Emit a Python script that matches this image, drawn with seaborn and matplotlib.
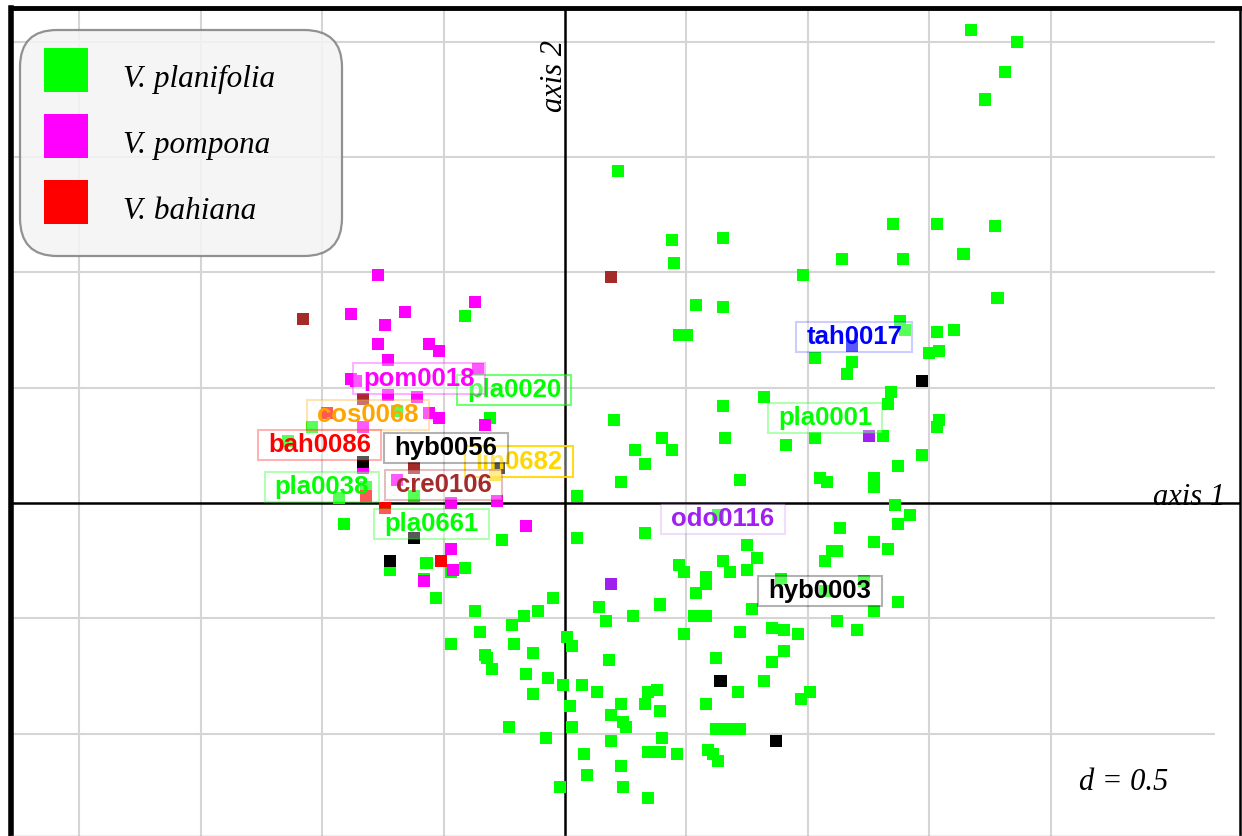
import numpy as np
import pandas as pd
import matplotlib
matplotlib.use("Agg")
import matplotlib.pyplot as plt
import seaborn as sns
from matplotlib.lines import Line2D
from matplotlib.path import Path

# sample scores on the first two axes, one pair of lists per taxon
pla_x = [1.67, 1.86, 1.81, 1.73, 0.22, 1.35, 1.53, 1.77, 0.44, 0.65, 1.14, 1.39, 1.64, 0.45, 0.98,
         1.78, 0.54, 0.65, -0.41, 1.38, 1.40, 1.53, 1.60, 0.47, 0.50, 1.50, 1.54, 1.03, 1.18, 1.16,
         1.34, 0.82, 1.33, 0.65, 1.54, 1.53, 0.20, -0.31, 0.40, 0.66, 0.91, 1.03, 1.31, 0.29, 0.44,
         1.47, 0.33, 1.37, 0.72, 1.05, 1.08, 1.27, 1.27, 0.23, 0.05, -0.69, -1.04, -1.14, -0.82, -0.93,
         -0.62, -0.91, -0.26, 0.05, 0.33, -0.57, -0.72, -0.47, -0.41, -0.58, -0.53, -0.05, 1.36, 1.42, 1.37,
         1.13, 0.63, 0.75, 1.27, 1.33, 1.10, 1.12, 1.07, 0.65, 0.79, 0.47, 0.49, 0.68, 0.75, 0.58,
         0.58, 0.89, 1.23, 0.54, 1.37, 0.77, 1.27, 0.39, 1.12, 1.20, 0.85, 0.90, 0.72, 0.96, 0.90,
         0.62, 0.85, 0.82, 0.71, 1.01, 0.97, 0.58, 0.62, 0.67, 0.72, 0.59, 0.61, 0.63, 0.14, -0.37,
         -0.17, -0.11, 0.17, 0.28, 0.53, 0.58, -0.35, -0.22, 0.01, 0.49, -0.47, -0.21, 0.03, -0.33, -0.32,
         -0.13, 0.18, -0.30, -0.16, -0.07, -0.01, 0.07, 0.13, 0.34, 0.38, -0.13, 0.02, 0.23, 0.33, 0.39,
         0.19, 0.24, 0.25, -0.23, 0.03, -0.08, 0.19, 0.40, 0.08, 0.34, 0.39, 0.46, 0.23, 0.09, -0.02,
         0.24, 0.34, 1.07]
pla_y = [2.05, 2.00, 1.87, 1.75, 1.44, 1.21, 1.21, 1.20, 1.14, 1.15, 1.06, 1.06, 1.08, 1.04, 0.99,
         0.89, 0.86, 0.85, 0.81, 0.79, 0.75, 0.74, 0.75, 0.73, 0.73, 0.65, 0.66, 0.63, 0.61, 0.56,
         0.48, 0.46, 0.43, 0.42, 0.36, 0.33, 0.36, 0.37, 0.28, 0.28, 0.25, 0.28, 0.29, 0.23, 0.23,
         0.21, 0.17, 0.16, 0.10, 0.11, 0.09, 0.11, 0.07, 0.09, 0.03, 0.40, 0.33, 0.27, 0.07, 0.02,
         0.03, -0.09, -0.16, -0.15, -0.13, -0.26, -0.29, -0.30, -0.28, -0.33, -0.41, -0.41, -0.01, -0.05, -0.09,
         -0.11, -0.05, -0.18, -0.17, -0.20, -0.21, -0.21, -0.25, -0.25, -0.24, -0.27, -0.30, -0.30, -0.29, -0.32,
         -0.35, -0.33, -0.34, -0.39, -0.43, -0.46, -0.47, -0.44, -0.51, -0.55, -0.54, -0.55, -0.56, -0.57, -0.64,
         -0.67, -0.69, -0.77, -0.82, -0.82, -0.85, -0.87, -0.98, -0.98, -0.98, -1.07, -1.09, -1.12, -0.45, -0.47,
         -0.49, -0.47, -0.51, -0.49, -0.49, -0.49, -0.56, -0.53, -0.58, -0.57, -0.61, -0.61, -0.62, -0.66, -0.67,
         -0.65, -0.68, -0.72, -0.74, -0.76, -0.79, -0.79, -0.82, -0.82, -0.81, -0.83, -0.88, -0.87, -0.87, -0.90,
         -0.92, -0.95, -0.97, -0.97, -0.97, -1.02, -1.03, -1.02, -1.09, -1.08, -1.08, -1.09, -1.14, -1.18, -1.23,
         -1.23, -1.28, -0.38]

pom_x = [-0.77, -0.88, -0.66, -0.37, -0.74, -0.77, -0.56, -0.52, -0.73, -0.36, -0.88, -0.86, -0.73, -0.61,
         -0.56, -0.52, -0.33, -0.83, -0.83, -0.69, -0.47, -0.28, -0.16, -0.47, -0.46, -0.58]
pom_y = [0.99, 0.82, 0.83, 0.87, 0.77, 0.69, 0.69, 0.66, 0.62, 0.58, 0.54, 0.53, 0.47, 0.46,
         0.39, 0.37, 0.34, 0.33, 0.15, 0.10, 0.00, 0.01, -0.10, -0.20, -0.29, -0.34]

bah_x = [-0.98, -0.82, -0.74, -0.51]
bah_y = [0.39, 0.03, -0.02, -0.25]

cre_x = [-1.08, 0.19, -0.83, -0.62]
cre_y = [0.80, 0.98, 0.45, 0.15]

hyb_x = [-0.83, -0.27, -0.62, -0.72, 0.64, 0.87, 1.47]
hyb_y = [0.18, 0.15, -0.15, -0.25, -0.77, -1.03, 0.53]

lin_x = [-0.29]
lin_y = [0.12]

odo_x = [0.19, 1.25]
odo_y = [-0.35, 0.29]

tah_x = [1.18]
tah_y = [0.68]

# labelled samples
label_names = ["pla0020", "pom0018", "lin0682", "cos0068", "bah0086", "hyb0056", "pla0038",
               "cre0106", "pla0661", "tah0017", "pla0001", "odo0116", "hyb0003"]
label_group = ["pla", "pom", "lin", "cos", "bah", "hyb", "pla", "cre", "pla", "tah", "pla", "odo", "hyb"]
label_x = [-0.21, -0.60, -0.19, -0.81, -1.01, -0.49, -1.00, -0.50, -0.55, 1.19, 1.07, 0.65, 1.05]
label_y = [0.49, 0.54, 0.18, 0.38, 0.25, 0.24, 0.07, 0.08, -0.09, 0.72, 0.37, -0.07, -0.38]

legend_groups = ["pla", "pom", "bah"]
legend_labels = ["V. planifolia", "V. pompona", "V. bahiana"]

palette = {"pla": "#00ff00", "pom": "#ff00ff", "bah": "#ff0000", "cre": "#a52a2a",
           "hyb": "#000000", "cos": "#ffa500", "lin": "#ffd700", "odo": "#a020f0",
           "tah": "#0000ff"}
edge_alpha = {"pla0020": 0.55, "lin0682": 0.9, "tah0017": 0.2, "odo0116": 0.15}

groups = {"pla": (pla_x, pla_y), "pom": (pom_x, pom_y), "bah": (bah_x, bah_y),
          "cre": (cre_x, cre_y), "hyb": (hyb_x, hyb_y), "lin": (lin_x, lin_y),
          "odo": (odo_x, odo_y), "tah": (tah_x, tah_y)}
df = pd.concat([pd.DataFrame({"x": gx, "y": gy, "group": g}) for g, (gx, gy) in groups.items()],
               ignore_index=True)

fig = plt.figure(figsize=(12.42, 8.36), dpi=100)
ax = fig.add_axes([11 / 1242, 0, 1229 / 1242, 828.5 / 836])
ax.set_xlim(-2.28, 2.778)
ax.set_ylim(-1.444, 2.149)

# d = 0.5 grid
for gx in np.arange(-2, 2.01, 0.5):
    if gx != 0:
        ax.axvline(gx, color="#d5d5d5", lw=1.5, zorder=0.5)
for gy in np.arange(-1, 2.01, 0.5):
    if gy != 0:
        ax.hlines(gy, -2.28, 2.675, color="#d5d5d5", lw=1.5, zorder=0.5)
ax.axhline(0, color="black", lw=1.8, zorder=1)
ax.axvline(0, color="black", lw=1.8, zorder=1)

sns.scatterplot(data=df, x="x", y="y", hue="group", palette=palette, marker="s", s=75,
                linewidth=0, legend=False, ax=ax, zorder=2)


def label_box(x0, y0, width, height, mutation_size):
    px, py = 0.4 * mutation_size, 0.12 * mutation_size
    x1, y1 = x0 + width + px, y0 + height + py
    xa, ya = x0 - px, y0 - py
    return Path([(xa, ya), (x1, ya), (x1, y1), (xa, y1), (xa, ya)],
                [Path.MOVETO, Path.LINETO, Path.LINETO, Path.LINETO, Path.CLOSEPOLY])


for name, g, lx, ly in zip(label_names, label_group, label_x, label_y):
    ec = matplotlib.colors.to_rgba(palette[g], edge_alpha.get(name, 0.3))
    ax.text(lx, ly, name, color=palette[g], fontsize=18.5, fontweight="bold",
            family=["Liberation Sans", "DejaVu Sans"], ha="center", va="center", zorder=3,
            bbox=dict(boxstyle=label_box, facecolor=(1, 1, 1, 0.35), edgecolor=ec, linewidth=1.5))

serif_it = dict(family=["Liberation Serif", "DejaVu Serif"], style="italic", size=22)
ax.text(0.988, 0.409, "axis 1", transform=ax.transAxes, ha="right", va="center", zorder=4, **serif_it)
ax.text(0.442, 0.917, "axis 2", transform=ax.transAxes, ha="center", va="center", rotation=90,
        zorder=4, **serif_it)
ax.text(0.905, 0.065, "d = 0.5", transform=ax.transAxes, ha="center", va="center", zorder=4, **serif_it)

handles = [Line2D([], [], marker="s", linestyle="none", markersize=31, markeredgewidth=0,
                  markerfacecolor=palette[g]) for g in legend_groups]
leg = ax.legend(handles, legend_labels, loc="upper left", mode="expand",
                bbox_to_anchor=(0.0073, 0.705, 0.262, 0.268), borderaxespad=0,
                prop=dict(serif_it, size=22.5), frameon=True, fancybox=True, framealpha=0.85,
                facecolor="#f4f4f4", edgecolor="#7f7f7f", borderpad=0.74,
                labelspacing=0.56, handlelength=1.45, handleheight=2.0, handletextpad=1.1)
leg.get_frame().set_linewidth(1.6)
leg.get_frame().set_boxstyle("round,pad=0,rounding_size=1.2")
leg.set_zorder(5)

ax.set_xticks([])
ax.set_yticks([])
ax.set_xlabel("")
ax.set_ylabel("")
ax.spines["left"].set_linewidth(4)
ax.spines["top"].set_linewidth(3.5)
ax.spines["right"].set_linewidth(1.8)
ax.spines["bottom"].set_linewidth(1)
ax.spines["bottom"].set_color("#aaaaaa")

fig.savefig("out.png", dpi=100)
